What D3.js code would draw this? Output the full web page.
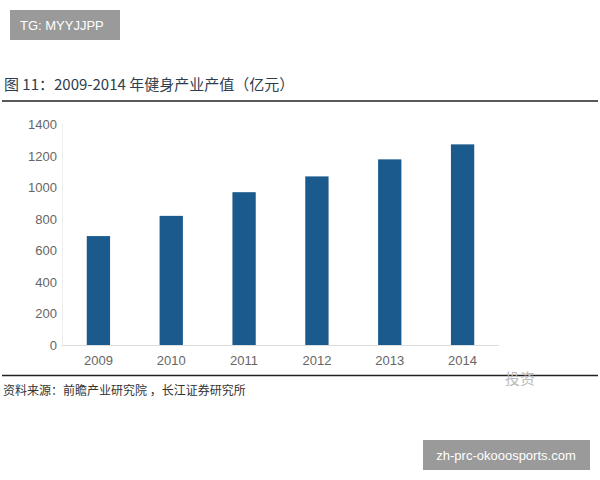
<!DOCTYPE html>
<html><head><meta charset="utf-8">
<script src="https://cdn.jsdelivr.net/npm/d3@7"></script>
<style>body{margin:0;background:#fff}text{font-family:"Liberation Sans","Noto Sans CJK SC",sans-serif}</style>
</head><body><svg id="c" width="600" height="480"></svg>
<script>
const years = ["2009","2010","2011","2012","2013","2014"];
const values = [690, 818, 968, 1068, 1176, 1271];
const yTicks = [0,200,400,600,800,1000,1200,1400];

const svg = d3.select("#c");
const cjk = '"Noto Sans CJK SC",sans-serif';
// top-left badge
svg.append("rect").attr("x",10).attr("y",10).attr("width",110).attr("height",30).attr("fill","#9a9a9a");
svg.append("text").attr("x",20).attr("y",30).attr("fill","#fff").attr("font-size",13).text("TG: MYYJJPP");
// title
svg.append("text").attr("x",4).attr("y",90).attr("fill","#2f3e4e").attr("font-size",15).style("font-family",cjk).text("图 11：2009-2014 年健身产业产值（亿元）");
svg.append("line").attr("x1",2).attr("x2",598).attr("y1",101).attr("y2",101).attr("stroke","#222").attr("stroke-width",1.5);

const x = d3.scaleBand().domain(years).range([62,499]).paddingInner(0.68).paddingOuter(0.34);
const y = d3.scaleLinear().domain([0,1400]).range([345,124]);

svg.append("line").attr("x1",62).attr("x2",499).attr("y1",345.5).attr("y2",345.5).attr("stroke","#ddd");
svg.append("line").attr("x1",62.5).attr("x2",62.5).attr("y1",124).attr("y2",345).attr("stroke","#eee");

svg.selectAll("text.yt").data(yTicks).enter().append("text").attr("class","yt")
  .attr("x",57).attr("y",d=>y(d)+5).attr("text-anchor","end").attr("fill","#666").attr("font-size",13).text(d=>d);
svg.selectAll("rect.bar").data(values).enter().append("rect").attr("class","bar")
  .attr("x",(d,i)=>x(years[i])).attr("width",x.bandwidth()).attr("y",d=>y(d)).attr("height",d=>345-y(d)).attr("fill","#1b5a8c");
svg.selectAll("text.xt").data(years).enter().append("text").attr("class","xt")
  .attr("x",d=>x(d)+x.bandwidth()/2).attr("y",365).attr("text-anchor","middle").attr("fill","#666").attr("font-size",13).text(d=>d);

svg.append("line").attr("x1",2).attr("x2",598).attr("y1",375.5).attr("y2",375.5).attr("stroke","#222").attr("stroke-width",1.5);
svg.append("text").attr("x",505).attr("y",384).attr("fill","#bbb").attr("font-size",15).style("font-family",cjk).text("投资");
svg.append("text").attr("x",3).attr("y",395).attr("fill","#333").attr("font-size",12).style("font-family",cjk).text("资料来源：前瞻产业研究院 ，长江证券研究所");
// bottom-right badge
svg.append("rect").attr("x",423).attr("y",440).attr("width",167).attr("height",30).attr("fill","#9a9a9a");
svg.append("text").attr("x",506).attr("y",460).attr("text-anchor","middle").attr("fill","#fff").attr("font-size",13).text("zh-prc-okooosports.com");
</script></body></html>
